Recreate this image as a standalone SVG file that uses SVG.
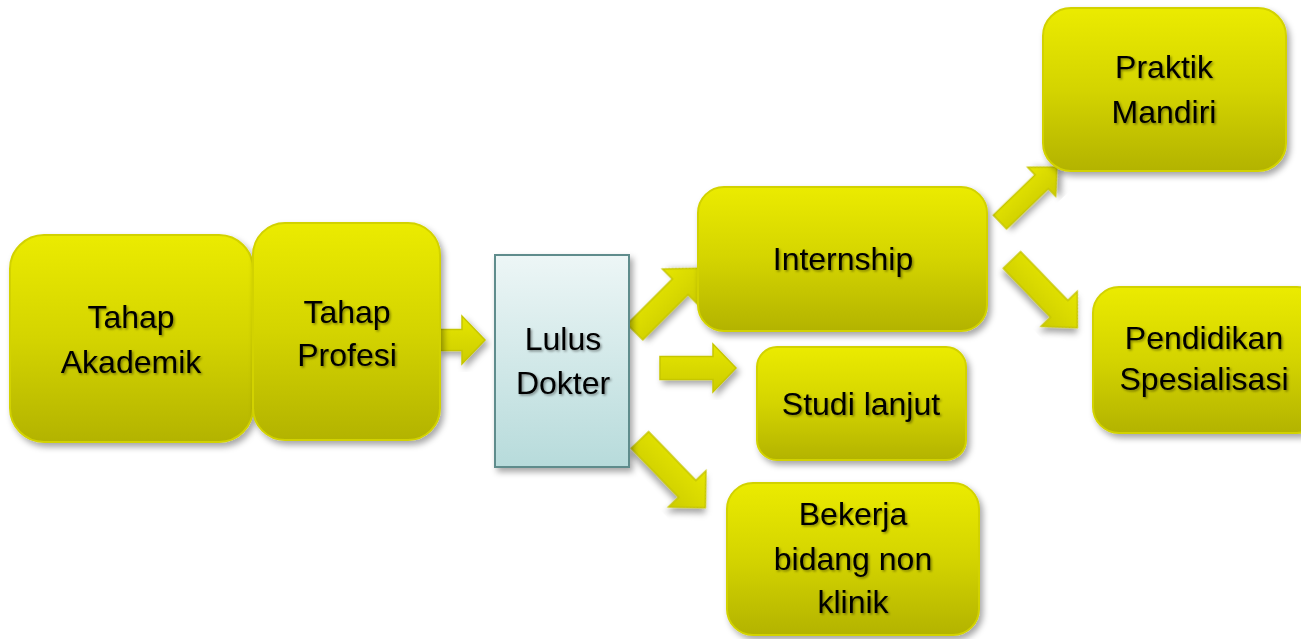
<svg xmlns="http://www.w3.org/2000/svg" width="1301" height="639" viewBox="0 0 1301 639">
<defs>
<linearGradient id="gy" x1="0" y1="0" x2="0" y2="1">
<stop offset="0" stop-color="#ebeb00"/>
<stop offset="0.5" stop-color="#d4d400"/>
<stop offset="1" stop-color="#b3b300"/>
</linearGradient>
<linearGradient id="gb" x1="0" y1="0" x2="0" y2="1">
<stop offset="0" stop-color="#edf6f6"/>
<stop offset="1" stop-color="#b7dbdb"/>
</linearGradient>
<linearGradient id="ga" x1="0" y1="0" x2="0" y2="1">
<stop offset="0" stop-color="#e6e600"/>
<stop offset="1" stop-color="#cccc00"/>
</linearGradient>
<filter id="sh" x="-10%" y="-10%" width="125%" height="125%">
<feDropShadow dx="3" dy="4" stdDeviation="3" flood-color="#000" flood-opacity="0.35"/>
</filter>
<filter id="ts" x="-5%" y="-10%" width="115%" height="130%">
<feDropShadow dx="1.5" dy="1.5" stdDeviation="1" flood-color="#000" flood-opacity="0.4"/>
</filter>
</defs>
<style>
.box{fill:url(#gy);stroke:#d2d200;stroke-width:2;filter:url(#sh)}
.blue{fill:url(#gb);stroke:#5e8c8c;stroke-width:2;filter:url(#sh)}
.arr{fill:url(#ga);stroke:#c6c600;stroke-width:1.5;filter:url(#sh)}
text{font-family:"Liberation Sans",Arial,sans-serif;font-size:32px;fill:#000;text-anchor:middle;filter:url(#ts)}
</style>
<rect width="1301" height="639" fill="#fff"/>
<g id="connectors">
<path class="arr" transform="translate(439,340)" d="M0,-10.5 L23,-10.5 L23,-24 L46,0 L23,24 L23,10.5 L0,10.5 Z"/>
<path class="arr" transform="translate(660,368)" d="M0,-11.5 L53,-11.5 L53,-24 L76,0 L53,24 L53,11.5 L0,11.5 Z"/>
<path class="arr" transform="translate(635,332) rotate(-45)" d="M0,-11 L64,-11 L64,-25 L90,0 L64,25 L64,11 L0,11 Z"/>
<path class="arr" transform="translate(640,440) rotate(46)" d="M0,-12 L68,-12 L68,-26 L94,0 L68,26 L68,12 L0,12 Z"/>
<path class="arr" transform="translate(1000,222) rotate(-44)" d="M0,-9.5 L58,-9.5 L58,-20 L79,0 L58,20 L58,9.5 L0,9.5 Z"/>
<path class="arr" transform="translate(1012,260) rotate(46)" d="M0,-12 L68,-12 L68,-25 L94,0 L68,25 L68,12 L0,12 Z"/>
</g>
<g id="akademik">
<rect class="box" x="10" y="235" width="243" height="207" rx="34"/>
<text x="131" y="328">Tahap</text>
<text x="131" y="373">Akademik</text>
</g>
<g id="profesi">
<rect class="box" x="253" y="223" width="187" height="217" rx="32"/>
<text x="347" y="323">Tahap</text>
<text x="347" y="366">Profesi</text>
</g>
<g id="lulus">
<rect class="blue" x="495" y="255" width="134" height="212"/>
<text x="563" y="350">Lulus</text>
<text x="563" y="394">Dokter</text>
</g>
<g id="internship">
<rect class="box" x="698" y="187" width="289" height="144" rx="26"/>
<text x="843" y="270">Internship</text>
</g>
<g id="studi">
<rect class="box" x="757" y="347" width="209" height="113" rx="20"/>
<text x="861" y="415">Studi lanjut</text>
</g>
<g id="bekerja">
<rect class="box" x="727" y="483" width="252" height="152" rx="26"/>
<text x="853" y="525">Bekerja</text>
<text x="853" y="570">bidang non</text>
<text x="853" y="613">klinik</text>
</g>
<g id="praktik">
<rect class="box" x="1043" y="8" width="243" height="163" rx="28"/>
<text x="1164" y="78">Praktik</text>
<text x="1164" y="123">Mandiri</text>
</g>
<g id="spesialisasi">
<rect class="box" x="1093" y="287" width="230" height="146" rx="26"/>
<text x="1204" y="349">Pendidikan</text>
<text x="1204" y="390">Spesialisasi</text>
</g>
</svg>
